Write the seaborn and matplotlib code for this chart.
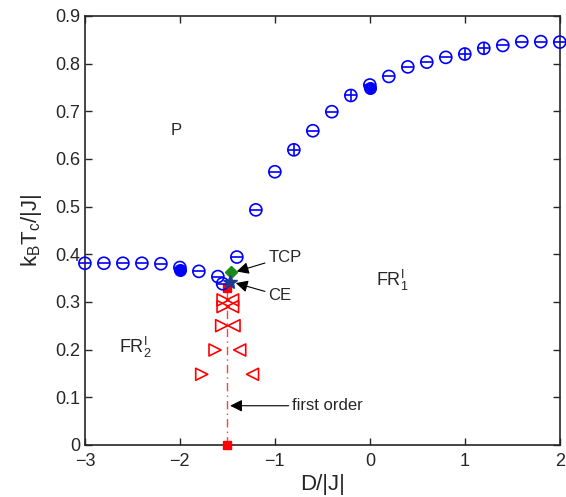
import numpy as np
import pandas as pd
import matplotlib
matplotlib.use("Agg")
import matplotlib.pyplot as plt
import seaborn as sns

# rama de alta temperatura (circulos abiertos)
d_up = [-1.4, -1.2, -1.0, -0.8, -0.6, -0.4, -0.2, 0.0, 0.2, 0.4, 0.6, 0.8, 1.0, 1.2, 1.4, 1.6, 1.8, 2.0]
t_up = [0.394, 0.493, 0.573, 0.619, 0.659, 0.699, 0.733, 0.755, 0.773, 0.793, 0.803, 0.813, 0.820, 0.832, 0.838, 0.846, 0.846, 0.845]
# rama de baja temperatura
d_low = [-3.0, -2.8, -2.6, -2.4, -2.2, -2.0, -1.8, -1.6, -1.55]
t_low = [0.381, 0.381, 0.381, 0.381, 0.380, 0.372, 0.364, 0.353, 0.338]
# puntos con barra vertical
d_bar = [-0.8, -0.2, 1.0, 1.2]
t_bar = [0.619, 0.733, 0.820, 0.832]
# puntos llenos
d_fill = [-2.0, 0.0]
t_fill = [0.366, 0.749]
# triangulos (primer orden)
t_tri = [0.304, 0.290, 0.250, 0.199, 0.148]
d_right = [-1.545, -1.545, -1.56, -1.63, -1.77]
d_left = [-1.445, -1.445, -1.43, -1.37, -1.235]
# puntos especiales
tcp = (-1.46, 0.362)
ce = (-1.47, 0.341)
d_first = [-1.5, -1.5]
t_first = [0.0, 0.33]

sns.set_style("ticks")
plt.rcParams['font.family'] = ['Liberation Sans', 'DejaVu Sans']
plt.rcParams['mathtext.fontset'] = 'custom'
plt.rcParams['mathtext.rm'] = 'Liberation Sans'
plt.rcParams['mathtext.it'] = 'Liberation Sans'

fig = plt.figure(figsize=(5.66, 4.97), dpi=100)
ax = fig.add_axes([0.150, 0.105, 0.839, 0.863])

blue = '#0000ff'
red = '#ff0000'
ms = 75

ax.plot(d_first, t_first, color='#ff4040', lw=1, linestyle=(0, (6, 3, 1, 3)), zorder=1)
ax.plot(d_first[:1], t_first[:1], 's', color=red, ms=6, clip_on=False, zorder=5)
ax.plot(d_first[1:], t_first[1:], 's', color=red, ms=6, zorder=2)

sns.scatterplot(x=d_right, y=t_tri, marker='>', s=ms, facecolor='none', edgecolor=red, linewidth=1.2, ax=ax, zorder=3)
sns.scatterplot(x=d_left, y=t_tri, marker='<', s=ms, facecolor='none', edgecolor=red, linewidth=1.2, ax=ax, zorder=3)

d_all = d_low + d_up
t_all = t_low + t_up
sns.scatterplot(x=d_all, y=t_all, marker='o', s=ms, facecolor='none', edgecolor=blue, linewidth=1.2, ax=ax, zorder=4, clip_on=False)
sns.scatterplot(x=d_all, y=t_all, marker='_', s=ms, color=blue, linewidth=1.2, ax=ax, zorder=4, clip_on=False)
sns.scatterplot(x=d_bar, y=t_bar, marker='|', s=ms, color=blue, linewidth=1.2, ax=ax, zorder=4, clip_on=False)
sns.scatterplot(x=d_fill, y=t_fill, marker='o', s=ms, color=blue, edgecolor=blue, ax=ax, zorder=5)

ax.plot([tcp[0]], [tcp[1]], 'D', color='#1a8a1a', ms=6, zorder=6)
ax.plot([ce[0]], [ce[1]], '*', color='#1f3a93', ms=10, zorder=6)

arr = dict(arrowstyle='-|>', color='k', lw=0.8, mutation_scale=18, shrinkA=0, shrinkB=2)
ax.annotate('TCP', xy=(tcp[0] + 0.03, tcp[1]), xytext=(-1.07, 0.394), fontsize=12,
            va='center', ha='left', arrowprops=arr)
ax.annotate('CE', xy=(ce[0] + 0.03, ce[1]), xytext=(-1.07, 0.313), fontsize=12,
            va='center', ha='left', arrowprops=arr)
ax.annotate('first order', xy=(-1.5, 0.082), xytext=(-0.82, 0.082), fontsize=12,
            va='center', ha='left', arrowprops=arr)

ax.text(-2.04, 0.66, 'P', fontsize=12, ha='center', va='center')
ax.text(-2.47, 0.205, r'$\mathregular{FR_2^I}$', fontsize=13, ha='center', va='center')
ax.text(0.24, 0.345, r'$\mathregular{FR_1^I}$', fontsize=13, ha='center', va='center')

ax.set_xlim(-3, 2)
ax.set_ylim(0, 0.9)
ax.set_xticks(np.arange(-3, 2.5, 1))
ax.set_xticklabels(['\u22123', '\u22122', '\u22121', '0', '1', '2'])
ax.set_yticks(np.arange(0, 0.95, 0.1))
ax.set_yticklabels(['0'] + ['%.1f' % v for v in np.arange(0.1, 0.95, 0.1)])
ax.tick_params(direction='in', top=True, right=True, labelsize=13, length=5, width=1)
ax.tick_params(axis='x', pad=6)
for s in ax.spines.values():
    s.set_linewidth(1.2)
ax.set_xlabel('D/|J|', fontsize=16, labelpad=3)
ax.set_ylabel(r'$\mathregular{k_BT_c/|J|}$', fontsize=16, labelpad=8)

fig.savefig('out.png', dpi=100)
